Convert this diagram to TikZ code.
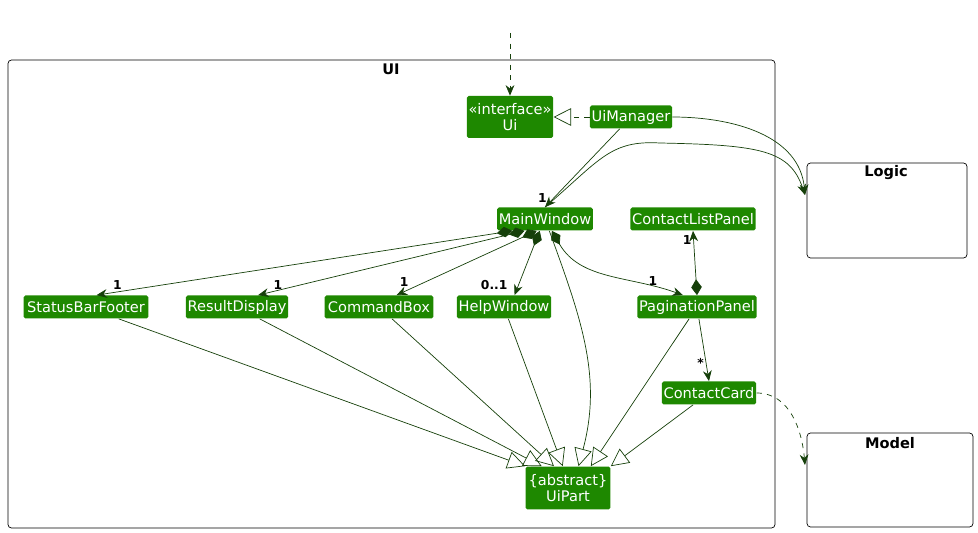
\documentclass[tikz,border=0pt]{standalone}
\usepackage{fontspec}
\setmainfont{DejaVu Sans}
\usetikzlibrary{arrows.meta,positioning}
\definecolor{clsfill}{RGB}{30,136,0}
\definecolor{lnk}{RGB}{22,64,10}
\begin{document}
\begin{tikzpicture}[x=0.02cm,y=-0.02cm,font=\fontsize{8.3}{9.5}\selectfont,
  cls/.style={fill=clsfill,text=white,rounded corners=1pt,inner sep=1pt,minimum height=0.46cm,align=center},
  pkg/.style={draw=black,rounded corners=2pt,thin},
  link/.style={draw=lnk,thin},
  nav/.style={link,-{Stealth[length=6pt,width=5pt]}},
  dep/.style={nav,dashed},
  inh/.style={link,-{Triangle[open,length=10pt,width=10pt]}},
  comp/.style={link,{Diamond[length=9pt,width=6pt]}-{Stealth[length=6pt,width=5pt]}},
  mult/.style={font=\fontsize{7}{8}\selectfont\bfseries,text=black,inner sep=1pt}]
\useasboundingbox (0,0) rectangle (978,533);
% packages
\draw[pkg] (8,60) rectangle (775,528);
\node[font=\fontsize{8.3}{9.5}\selectfont\bfseries] (uilbl) at (391,69) {UI};
\draw[pkg] (807,163) rectangle (967,258);
\node[font=\fontsize{8.3}{9.5}\selectfont\bfseries] (logic) at (886,173) {Logic};
\coordinate (logicin) at (805,195);
\draw[pkg] (807,433) rectangle (973,527);
\node[font=\fontsize{8.3}{9.5}\selectfont\bfseries] (model) at (890,443) {Model};
\coordinate (modelin) at (805,465);
% classes
\node[cls,minimum width=1.72cm,minimum height=0.84cm] (ui) at (510,117) {«interface»\\Ui};
\node[cls,minimum width=1.64cm] (uimanager) at (631,117) {UiManager};
\node[cls,minimum width=1.9cm] (mainwindow) at (545,219) {MainWindow};
\node[cls,minimum width=2.5cm] (contactlist) at (693,219) {ContactListPanel};
\node[cls,minimum width=2.5cm] (statusbar) at (86,307) {StatusBarFooter};
\node[cls,minimum width=2.02cm] (result) at (237,307) {ResultDisplay};
\node[cls,minimum width=2.18cm] (command) at (379,307) {CommandBox};
\node[cls,minimum width=1.34cm] (help) at (504,307) {HelpWindow};
\node[cls,minimum width=2.34cm] (pagination) at (697,307) {PaginationPanel};
\node[cls,minimum width=1.86cm] (contactcard) at (709,393) {ContactCard};
\node[cls,minimum width=1.7cm,minimum height=0.86cm] (uipart) at (568,488) {\{abstract\}\\UiPart};
\coordinate (top) at (510,33);
% links
\draw[dep] (top) -- (ui);
\draw[link,dashed,-{Triangle[open,length=10pt,width=10pt]}] (uimanager) -- (ui);
\draw[nav] (uimanager) -- node[mult,pos=0.88,left=3pt] {1} (mainwindow.north);
\draw[nav] (uimanager.east) to[out=0,in=95] (logicin);
\draw[nav] (mainwindow.north) .. controls (600,160) and (610,140) .. (660,143) .. controls (760,145) and (790,150) .. (logicin);
\draw[comp] (mainwindow.200) -- node[mult,pos=0.95,above] {1} ([xshift=6pt]statusbar.north);
\draw[comp] (mainwindow.210) -- node[mult,pos=0.95,above right] {1} ([xshift=12pt]result.north);
\draw[comp] (mainwindow.235) -- node[mult,pos=0.9,above left] {1} ([xshift=10pt]command.north);
\draw[comp] ([xshift=-3pt]mainwindow.south) -- node[mult,pos=0.85,left=5pt] {0..1} ([xshift=6pt]help.north);
\draw[comp] (mainwindow.300) to[out=-60,in=160] node[mult,pos=0.85,above left] {1} ([xshift=-8pt]pagination.north);
\draw[comp] (pagination.north) -- node[mult,pos=0.85,left] {1} (contactlist.south);
\draw[nav] (pagination) -- node[mult,pos=0.7,left] {*} (contactcard.north);
\draw[inh] (statusbar) -- (uipart.north west);
\draw[inh] (result) -- ([xshift=-15pt]uipart.north);
\draw[inh] (command) -- ([xshift=-8pt]uipart.north);
\draw[inh] (help) -- ([xshift=-3pt]uipart.north);
\draw[inh] (mainwindow.290) to[out=-70,in=75] ([xshift=6pt]uipart.north);
\draw[inh] (pagination) -- ([xshift=13pt]uipart.north);
\draw[inh] (contactcard) -- (uipart.north east);
\draw[dep] (contactcard.east) to[out=0,in=95] (modelin);
\end{tikzpicture}
\end{document}
